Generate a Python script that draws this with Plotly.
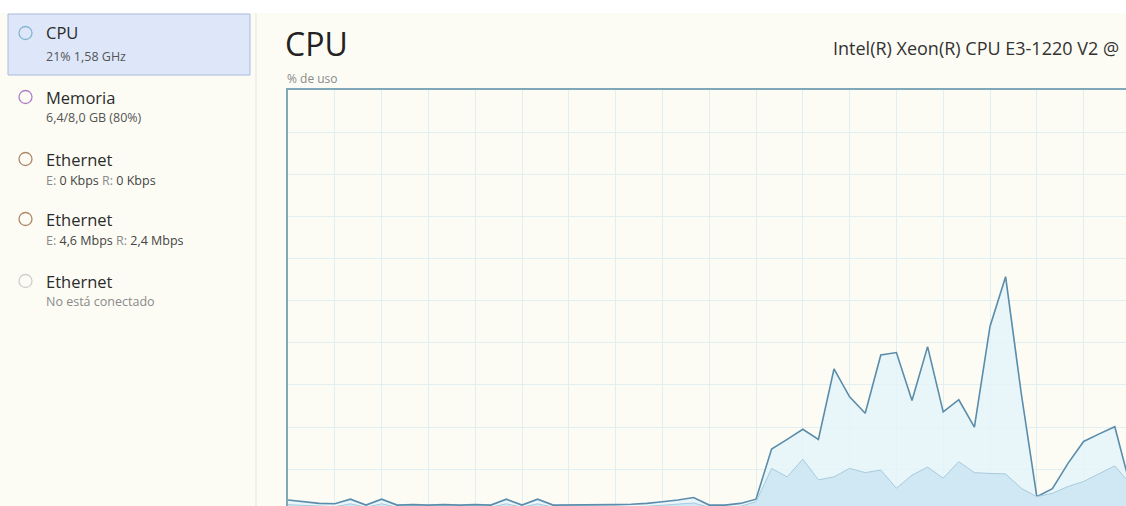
import plotly.graph_objects as go

# ---- data ----
seconds = list(range(55))
cpu_total = [2.7, 2.3, 1.9, 1.8, 2.9, 1.5, 2.9, 1.5, 1.6, 1.5,
             1.6, 1.5, 1.6, 1.5, 2.9, 1.5, 2.9, 1.5, 1.5, 1.6,
             1.5, 1.6, 1.7, 1.9, 2.3, 2.7, 3.3, 1.5, 1.5, 1.9,
             2.9, 14.8, 17.1, 19.5, 17.1, 33.8, 27.2, 23.3, 37.1, 37.7,
             26.3, 39.1, 23.6, 26.5, 20.0, 43.9, 55.7, 28.1, 3.5, 5.4,
             11.4, 16.6, 18.4, 20.1, 5.9]
cpu_kernel = [1.6, 1.4, 1.2, 1.1, 1.8, 1.0, 1.8, 1.0, 1.0, 1.0,
              1.0, 1.0, 1.0, 1.0, 1.8, 1.0, 1.8, 1.0, 1.0, 1.0,
              1.0, 1.0, 1.1, 1.2, 1.5, 1.7, 2.0, 1.0, 1.0, 1.2,
              2.3, 10.2, 8.2, 12.4, 7.5, 8.2, 10.2, 9.2, 9.8, 5.5,
              8.6, 10.5, 7.9, 11.8, 9.2, 9.0, 8.9, 5.5, 3.5, 4.3,
              5.9, 7.1, 9.0, 10.8, 6.5]

side_titles = ["CPU", "Memoria", "Ethernet", "Ethernet", "Ethernet"]
side_subs = ["21% 1,58 GHz", "6,4/8,0 GB (80%)",
             "E: <b>0 Kbps</b> R: <b>0 Kbps</b>",
             "E: <b>4,6 Mbps</b> R: <b>2,4 Mbps</b>",
             "No está conectado"]
title_text = "CPU"
ylabel_text = "% de uso"
model_text = "Intel(R) Xeon(R) CPU E3-1220 V2 @"

# ---- geometry helpers ----
W, H = 1126, 506
L, T = 288, 90
FONT = "Open Sans"


def px(x):
    return (x - L) / (W - L)


def py(y):
    return (H - y) / (H - T)


BG = "#fcfcf4"
fig = go.Figure()

fig.add_trace(go.Scatter(
    x=seconds, y=cpu_total, mode="lines",
    line=dict(color="#5a8cab", width=1.6),
    fill="tozeroy", fillcolor="rgba(225,244,252,0.75)",
    hoverinfo="skip", showlegend=False))
fig.add_trace(go.Scatter(
    x=seconds, y=cpu_kernel, mode="lines",
    line=dict(color="#a8cbdc", width=1),
    fill="tozeroy", fillcolor="rgba(205,231,243,0.95)",
    hoverinfo="skip", showlegend=False))

shapes = []
# white strip at top
shapes.append(dict(type="rect", xref="paper", yref="paper",
                   x0=px(0), x1=px(W), y0=py(13), y1=py(0),
                   fillcolor="#ffffff", line=dict(width=0), layer="below"))
# selected item box
shapes.append(dict(type="rect", xref="paper", yref="paper",
                   x0=px(8), x1=px(250), y0=py(75), y1=py(14),
                   fillcolor="#dee7f9", line=dict(color="#a9badf", width=1),
                   layer="below"))
# divider
shapes.append(dict(type="line", xref="paper", yref="paper",
                   x0=px(256), x1=px(256), y0=py(H), y1=py(13),
                   line=dict(color="#e6e6de", width=1)))

item_y = [33, 97, 159, 219, 281]
sub_y = [57, 117, 180, 240, 301]
circle_colors = ["#86b6cf", "#b07fc4", "#b0896a", "#b0896a", "#cfcfcf"]
annos = []
for t, s, yc, ys, cc in zip(side_titles, side_subs, item_y, sub_y, circle_colors):
    shapes.append(dict(type="circle", xref="paper", yref="paper",
                       x0=px(19), x1=px(32), y0=py(yc + 6.5), y1=py(yc - 6.5),
                       line=dict(color=cc, width=1.3), fillcolor="rgba(0,0,0,0)"))
    annos.append(dict(xref="paper", yref="paper", x=px(44), y=py(yc),
                      text=t, showarrow=False, xanchor="left", yanchor="middle",
                      font=dict(family=FONT, size=16.5, color="#2b2b2b")))
    if s.startswith("E:"):
        s = s.replace("E:", "<span style='color:#8a8a8a'>E:</span>")
        s = s.replace(" R:", " <span style='color:#8a8a8a'>R:</span>")
        s = s.replace("<b>", "<span style='color:#444'>").replace("</b>", "</span>")
        color = "#444444"
    elif s.startswith("No"):
        color = "#8a8a8a"
    else:
        color = "#555555"
    annos.append(dict(xref="paper", yref="paper", x=px(44), y=py(ys),
                      text=s, showarrow=False, xanchor="left", yanchor="middle",
                      font=dict(family=FONT, size=12.5, color=color)))

annos.append(dict(xref="paper", yref="paper", x=px(283), y=py(44),
                  text=title_text, showarrow=False, xanchor="left", yanchor="middle",
                  font=dict(family=FONT, size=32, color="#222222")))
annos.append(dict(xref="paper", yref="paper", x=px(285), y=py(78),
                  text=ylabel_text, showarrow=False, xanchor="left", yanchor="middle",
                  font=dict(family=FONT, size=12, color="#8a8a8a")))
annos.append(dict(xref="paper", yref="paper", x=px(831), y=py(48),
                  text=model_text, showarrow=False, xanchor="left", yanchor="middle",
                  font=dict(family=FONT, size=18, color="#333333")))

fig.update_layout(
    width=W, height=H,
    margin=dict(l=L, r=0, t=T, b=0, pad=0),
    paper_bgcolor=BG, plot_bgcolor=BG,
    shapes=shapes, annotations=annos,
    xaxis=dict(range=[0, (W - L) / 15.6], dtick=3, tick0=0,
               showgrid=True, gridcolor="#e2eff2", gridwidth=1,
               zeroline=False, showticklabels=False, ticks="",
               side="top", showline=True, linecolor="#7fa9b8", linewidth=2,
               fixedrange=True),
    yaxis=dict(range=[(511.4 - H) / 4.21, 100], dtick=10, tick0=0,
               showgrid=True, gridcolor="#e2eff2", gridwidth=1,
               zeroline=False, showticklabels=False, ticks="",
               showline=True, linecolor="#7fa9b8", linewidth=2,
               fixedrange=True),
)

fig.write_html("out.html", config={"displayModeBar": False},
               post_script="document.body.style.margin='0';")
